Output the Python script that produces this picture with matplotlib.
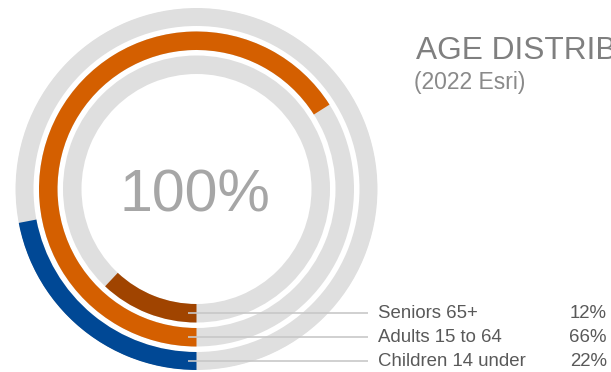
import numpy as np
import matplotlib
matplotlib.use("Agg")
import matplotlib.pyplot as plt

plt.rcParams['font.family'] = ['Liberation Sans', 'DejaVu Sans']

# --- data ---
categories = ["Seniors 65+", "Adults 15 to 64", "Children 14 under"]
values = [12, 66, 22]
colors = ["#A04400", "#D45F00", "#004895"]
title = "AGE DISTRIBUTION"
subtitle = "(2022 Esri)"
center_label = "100%"

# --- layout (pixels) ---
W, H = 611, 372
cx, cy = 196.5, 189          # circle centre, measured from top-left
R = 181                      # outer radius
ring_inner = [115, 139, 163] # inner radius of each ring, inner -> outer
ring_width = 18.5
track = "#DFDFDF"

fig = plt.figure(figsize=(W / 100, H / 100), dpi=100)
pos = [(cx - R) / W, (H - cy - R) / H, 2 * R / W, 2 * R / H]

# radial bars
ax = fig.add_axes(pos, projection="polar")
ax.set_theta_zero_location("S")
ax.set_theta_direction(-1)
ax.set_ylim(0, R)
ax.axis("off")
for v, c, r0 in zip(values, colors, ring_inner):
    ax.bar(0, ring_width, width=2 * np.pi, bottom=r0, align="edge",
           color=track, edgecolor="none")
    ax.bar(0, ring_width, width=v / 100 * 2 * np.pi, bottom=r0, align="edge",
           color=c, edgecolor="none")

# overlay for leader lines and labels
ov = fig.add_axes(pos)
ov.set_xlim(-R, R)
ov.set_ylim(-R, R)
ov.axis("off")
for name, v, r0 in zip(categories, values, ring_inner):
    y = -(r0 + ring_width / 2)
    ov.plot([-9, 171.5], [y, y], color="#C8C8C8", lw=1.2, solid_capstyle="butt")
    ov.text(181.5, y - 4.5, name, fontsize=13.4, color="#595959",
            ha="left", va="baseline", clip_on=False)
    ov.text(410.5, y - 4.5, f"{v}%", fontsize=13.4, color="#595959",
            ha="right", va="baseline", clip_on=False)

ov.text(-1.5, -23, center_label, fontsize=42.5, color="#A6A6A6",
        ha="center", va="baseline")

fig.text(416 / W, (H - 59) / H, title, fontsize=22.8, color="#7F7F7F",
         ha="left", va="baseline")
fig.text(414 / W, (H - 89) / H, subtitle, fontsize=16.5, color="#8A8A8A",
         ha="left", va="baseline")

fig.savefig("out.png", dpi=100)
